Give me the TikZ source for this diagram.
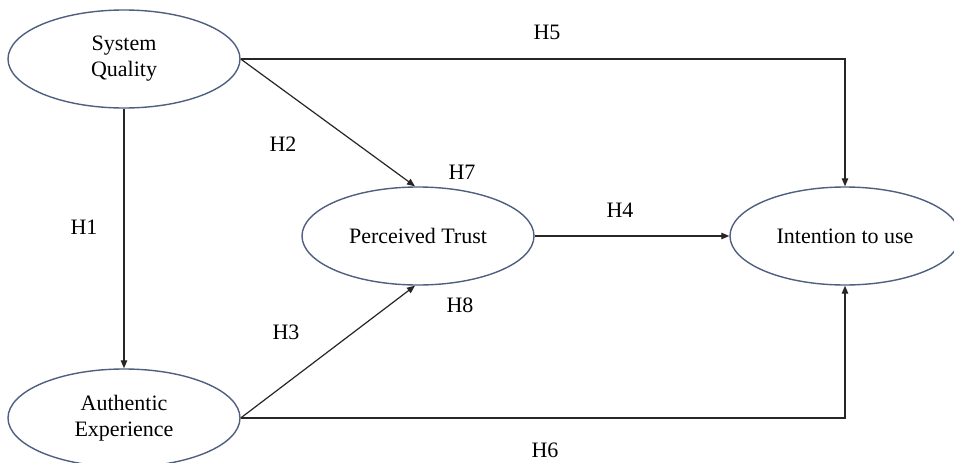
\documentclass[tikz,border=0pt]{standalone}
\usepackage{fontspec}
\setmainfont{Liberation Serif}
\usetikzlibrary{shapes.geometric,arrows.meta}
\definecolor{ellcol}{HTML}{4F5F7F}
\tikzset{
  construct/.style={draw=ellcol, line width=1.4pt, ellipse, minimum width=232pt, minimum height=98pt, inner sep=0pt, align=center, font=\fontsize{22}{26}\selectfont},
  hyp/.style={font=\fontsize{22}{26}\selectfont, inner sep=0pt},
  path/.style={draw=black!85, line width=1.2pt, -{Triangle[length=8pt,width=6.5pt]}}
}
\begin{document}
\begin{tikzpicture}[x=1pt,y=-1pt]
\useasboundingbox (0,0) rectangle (954,463);
\clip (0,0) rectangle (954,463);
\fill[white] (0,0) rectangle (954,463);
\node[construct] (sq) at (124,59) {System\\Quality};
\node[construct] (ae) at (124,418) {Authentic\\Experience};
\node[construct] (pt) at (418,236) {Perceived Trust};
\node[construct, minimum width=230pt] (iu) at (845,236) {Intention to use};

\draw[path] (sq.south) -- (ae.north);
\draw[path] (sq.east) -- ([xshift=-3pt]pt.north);
\draw[path] (sq.east) -| (iu.north);
\draw[path] (ae.east) -- ([xshift=-3pt]pt.south);
\draw[path] (ae.east) -| (iu.south);
\draw[path] (pt.east) -- (iu.west);

\node[hyp] (h1) at (84,227) {H1};
\node[hyp] (h2) at (283,144) {H2};
\node[hyp] (h3) at (286,332) {H3};
\node[hyp] (h4) at (620,210) {H4};
\node[hyp] (h5) at (547,32) {H5};
\node[hyp] (h6) at (545,450) {H6};
\node[hyp] (h7) at (462,172) {H7};
\node[hyp] (h8) at (460,305) {H8};
\end{tikzpicture}
\end{document}
